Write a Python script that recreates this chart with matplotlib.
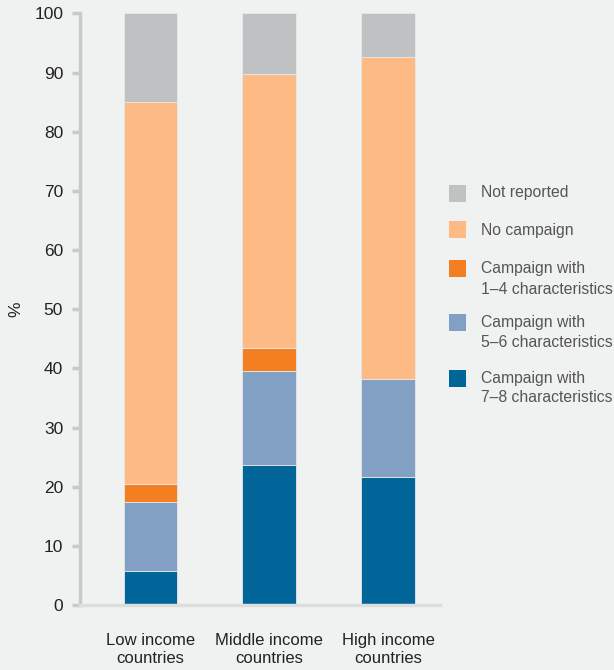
import matplotlib
matplotlib.use("Agg")
import matplotlib.pyplot as plt
from matplotlib.patches import Rectangle
import numpy as np

plt.rcParams['font.family'] = ['Liberation Sans', 'DejaVu Sans']

categories = ["Low income\ncountries", "Middle income\ncountries", "High income\ncountries"]
series_names = ["Campaign with\n7–8 characteristics", "Campaign with\n5–6 characteristics",
                "Campaign with\n1–4 characteristics", "No campaign", "Not reported"]
camp_7_8 = [5.8, 23.6, 21.7]
camp_5_6 = [11.6, 15.9, 16.5]
camp_1_4 = [3.0, 3.9, 0.0]
no_campaign = [64.7, 46.3, 54.4]
not_reported = [14.9, 10.3, 7.4]
colors = ["#02659a", "#82a0c4", "#f47f20", "#fdba84", "#c0c1c3"]
y_ticks = [0, 10, 20, 30, 40, 50, 60, 70, 80, 90, 100]

W, H = 614, 670
bg = "#f0f1f1"
fig = plt.figure(figsize=(W / 100, H / 100), dpi=100, facecolor=bg)
ax = fig.add_axes([0.130, 0.097, 0.587, 0.883], facecolor=bg)

x = np.arange(len(categories))
bottom = np.zeros(len(categories))
for vals, col in zip([camp_7_8, camp_5_6, camp_1_4, no_campaign, not_reported], colors):
    ax.bar(x, vals, bottom=bottom, width=0.45, color=col, edgecolor="#e6e8ea", linewidth=0.6)
    bottom += np.array(vals)

ax.set_ylim(0, 100)
ax.set_xlim(-0.594, 2.44)
ax.set_yticks(y_ticks)
ax.set_xticks(x)
ax.set_xticklabels(categories, fontsize=12, color="#222222", linespacing=1.3)
ax.tick_params(axis='y', labelsize=12.5, labelcolor="#222222", color="#c8c9ca", length=6, width=2.5, pad=6)
ax.tick_params(axis='x', length=0, pad=20)
for s in ["top", "right"]:
    ax.spines[s].set_visible(False)
ax.spines["left"].set_color("#c8c9ca")
ax.spines["left"].set_linewidth(2.5)
ax.spines["bottom"].set_color("#dcdddd")
ax.spines["bottom"].set_linewidth(2.5)
ax.set_ylabel("%", fontsize=12.5, color="#222222", labelpad=8)

# manual legend (figure pixel positions)
legend_rows = [(193, None), (230, None), (268, 290), (322, 342), (378, 398)]
for (y1, y2), name, col in zip(legend_rows, series_names[::-1], colors[::-1]):
    fig.patches.append(Rectangle((449 / W, 1 - (y1 + 8.5) / H), 17 / W, 17 / H,
                                 transform=fig.transFigure, facecolor=col, edgecolor='none'))
    lines = name.split("\n")
    fig.text(481 / W, 1 - y1 / H, lines[0], fontsize=11.3, color="#555555", va="center", ha="left")
    if y2 is not None:
        fig.text(481 / W, 1 - y2 / H, lines[1], fontsize=11.3, color="#555555", va="center", ha="left")

fig.savefig("out.png", dpi=100, facecolor=bg)
